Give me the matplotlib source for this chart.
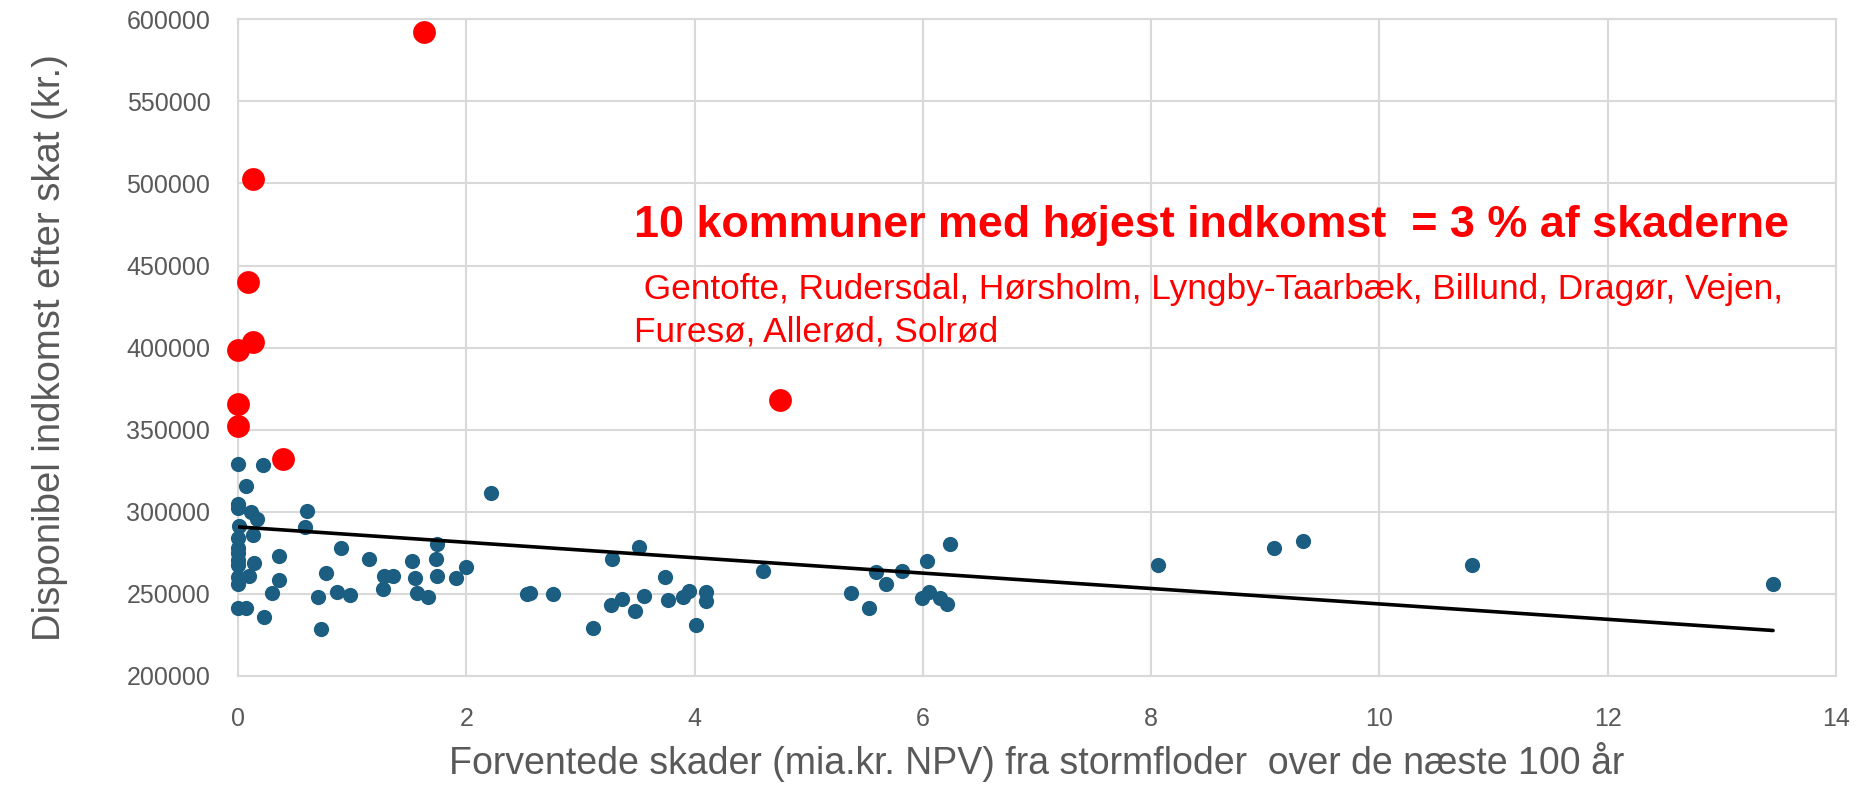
import numpy as np
import matplotlib
matplotlib.use('Agg')
import matplotlib.pyplot as plt

plt.rcParams['font.family'] = ['Liberation Sans', 'DejaVu Sans']

# blue: all other municipalities (damage bn kr NPV, disposable income kr)
skader = [0.0, 0.22, 0.07, 0.0, 0.0, 0.11, 0.17, 0.60, 0.59, 0.01,
          0.0, 0.13, 0.0, 0.0, 0.0, 0.0, 0.14, 0.36, 0.10, 0.0,
          0.0, 0.36, 0.30, 0.0, 0.07, 0.23, 0.77, 0.90, 0.87, 0.98,
          0.70, 0.73, 1.15, 1.28, 1.36, 1.27, 1.52, 1.55, 1.57, 1.66,
          1.74, 1.73, 1.74, 1.91, 2.00, 2.22,
          2.53, 2.56, 2.76, 3.11, 3.28, 3.51, 3.27, 3.36, 3.48, 3.56,
          3.74, 3.77, 3.90, 3.95, 4.01, 4.10, 4.10, 4.60,
          5.37, 5.53, 5.59, 5.68, 5.82, 6.04, 5.99, 6.05, 6.15, 6.21, 6.24,
          8.06, 9.08, 9.33, 10.81, 13.45]
indkomst = [329200, 328400, 315600, 304800, 302200, 300100, 295900, 300200, 291000, 291400,
            283900, 286100, 277800, 274800, 270700, 267700, 268900, 273000, 261100, 260200,
            255900, 258500, 250400, 241300, 241300, 236200, 262600, 278000, 251000, 249400,
            248000, 228900, 271300, 260600, 260600, 252900, 269900, 259600, 250400, 248000,
            280300, 271100, 260900, 259900, 266600, 311500,
            250200, 250600, 249800, 229300, 271100, 278400, 243100, 247100, 239800, 248600,
            260200, 246500, 248300, 252000, 231100, 251300, 245700, 263800,
            250400, 241700, 263600, 255900, 264000, 270100, 247400, 251400, 247400, 244100, 280300,
            267500, 278200, 282500, 267500, 256300]

# red: 10 municipalities with highest income
top_skader = [1.63, 0.13, 0.09, 0.13, 0.0, 0.0, 0.0, 0.39, 4.75]
top_indkomst = [592000, 503000, 439700, 403600, 398600, 365500, 352500, 332200, 368200]

# trend line
trend_x = [0.0, 13.45]
trend_y = [290800, 227700]

titel = '10 kommuner med højest indkomst  = 3 % af skaderne'
navne1 = ' Gentofte, Rudersdal, Hørsholm, Lyngby-Taarbæk, Billund, Dragør, Vejen,'
navne2 = 'Furesø, Allerød, Solrød'

fig = plt.figure(figsize=(18.6, 7.85), dpi=100)
ax = fig.add_axes([0.128, 0.1389, 0.859, 0.8365])

ax.scatter(skader, indkomst, s=120, color='#1B5E82', zorder=3, linewidths=0, clip_on=False)
ax.scatter(top_skader, top_indkomst, s=270, color='#FF0000', zorder=3, linewidths=0, clip_on=False)
ax.plot(trend_x, trend_y, color='black', lw=2.6, zorder=4, solid_capstyle='round')

ax.set_xlim(0, 14)
ax.set_ylim(200000, 600000)
ax.set_xticks(range(0, 15, 2))
ax.set_yticks(range(200000, 600001, 50000))
ax.grid(True, color='#D9D9D9', lw=1.5, zorder=0)
ax.set_axisbelow(True)
for sp in ax.spines.values():
    sp.set_color('#D9D9D9')
    sp.set_linewidth(1.5)
ax.tick_params(length=0, labelsize=18, labelcolor='#595959')
ax.tick_params(axis='y', pad=20)
ax.tick_params(axis='x', pad=22)

ax.set_xlabel('Forventede skader (mia.kr. NPV) fra stormfloder  over de næste 100 år',
              fontsize=27, color='#595959', labelpad=8)
ax.set_ylabel('Disponibel indkomst efter skat (kr.)', fontsize=27.5, color='#595959', labelpad=42)

fig.text(0.341, 0.713, titel, color='#FF0000', fontsize=32.3, fontweight='bold', va='center')
fig.text(0.341, 0.631, navne1, color='#FF0000', fontsize=25.4, va='center')
fig.text(0.341, 0.577, navne2, color='#FF0000', fontsize=25.4, va='center')

fig.savefig('out.png', dpi=100)
